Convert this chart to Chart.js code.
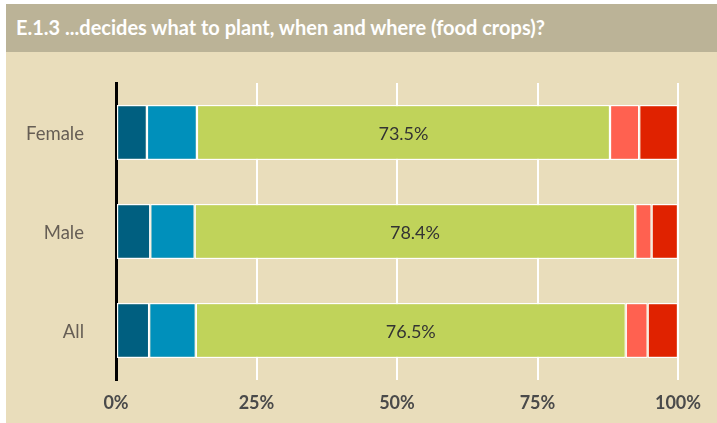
<!DOCTYPE html>
<html>
<head>
<meta charset="utf-8">
<script src="https://cdn.jsdelivr.net/npm/chart.js@4/dist/chart.umd.min.js"></script>
<style>
  body { margin: 0; background: #fff; font-family: Lato, sans-serif; }
  #title {
    position: absolute; left: 6px; top: 4px; width: 701px; height: 48px;
    background: #bbb397; color: #fff; font: bold 20px Lato, sans-serif;
    line-height: 46px; padding-left: 10px;
  }
  #panel {
    position: absolute; left: 6px; top: 52px; width: 711px; height: 371px;
    background: #e9ddbb;
  }
</style>
</head>
<body>
<div id="title">E.1.3 ...decides what to plant, when and where (food crops)?</div>
<div id="panel"><canvas id="chart" width="711" height="371"></canvas></div>
<script>
  const categories = ["Female", "Male", "All"];
  const seriesLabels = ["Group 1", "Group 2", "Group 3", "Group 4", "Group 5"];
  const group1 = [5.5, 6.1, 5.9];
  const group2 = [8.9, 7.9, 8.3];
  const group3 = [73.5, 78.4, 76.5];
  const group4 = [5.2, 2.9, 3.9];
  const group5 = [6.9, 4.7, 5.4];
  const xTicks = [0, 25, 50, 75, 100];
  const colors = ["#005f80", "#0090bb", "#c0d35a", "#ff6150", "#e02200"];

  // value labels on the middle (largest) segment
  const middleLabels = {
    id: "middleLabels",
    afterDatasetsDraw(chart) {
      const ctx = chart.ctx;
      const meta = chart.getDatasetMeta(2);
      ctx.save();
      ctx.font = "18px Lato, sans-serif";
      ctx.fillStyle = "#333";
      ctx.textAlign = "center";
      ctx.textBaseline = "middle";
      meta.data.forEach((bar, i) => {
        const v = chart.data.datasets[2].data[i];
        ctx.fillText(v.toFixed(1) + "%", (bar.x + bar.base) / 2, bar.y + 2);
      });
      ctx.restore();
    }
  };

  const seriesData = [group1, group2, group3, group4, group5];

  new Chart(document.getElementById("chart"), {
    type: "bar",
    data: {
      labels: categories,
      datasets: seriesData.map((d, i) => ({
        label: seriesLabels[i],
        data: d,
        backgroundColor: colors[i],
        borderColor: "#fff",
        borderWidth: 1.2,
        borderSkipped: false,
        categoryPercentage: 1,
        barPercentage: 0.556
      }))
    },
    options: {
      indexAxis: "y",
      responsive: false,
      devicePixelRatio: 1,
      animation: false,
      layout: { padding: { top: 31, right: 39, left: 0, bottom: 0 } },
      plugins: { legend: { display: false }, tooltip: { enabled: false } },
      scales: {
        x: {
          stacked: true,
          min: 0,
          max: 100,
          afterBuildTicks: s => { s.ticks = xTicks.map(v => ({ value: v })); },
          afterFit: s => { s.height = 43; },
          grid: {
            color: c => (c.tick && c.tick.value === 0 ? "rgba(0,0,0,0)" : "#fff"),
            lineWidth: 2,
            drawTicks: false
          },
          border: { display: false },
          ticks: {
            padding: 12,
            color: "#4a4a4a",
            font: { family: "Lato", size: 18, weight: "bold" },
            callback: v => v + "%"
          }
        },
        y: {
          stacked: true,
          afterFit: s => {
            s.width = 110;
            s.paddingTop = 0;
            s.paddingBottom = 0;
          },
          grid: { display: false, drawTicks: false },
          border: { display: true, color: "#000", width: 3 },
          ticks: {
            padding: 32,
            labelOffset: 2,
            color: "#665e55",
            font: { family: "Lato", size: 18.5 }
          }
        }
      }
    },
    plugins: [middleLabels]
  });
</script>
</body>
</html>
